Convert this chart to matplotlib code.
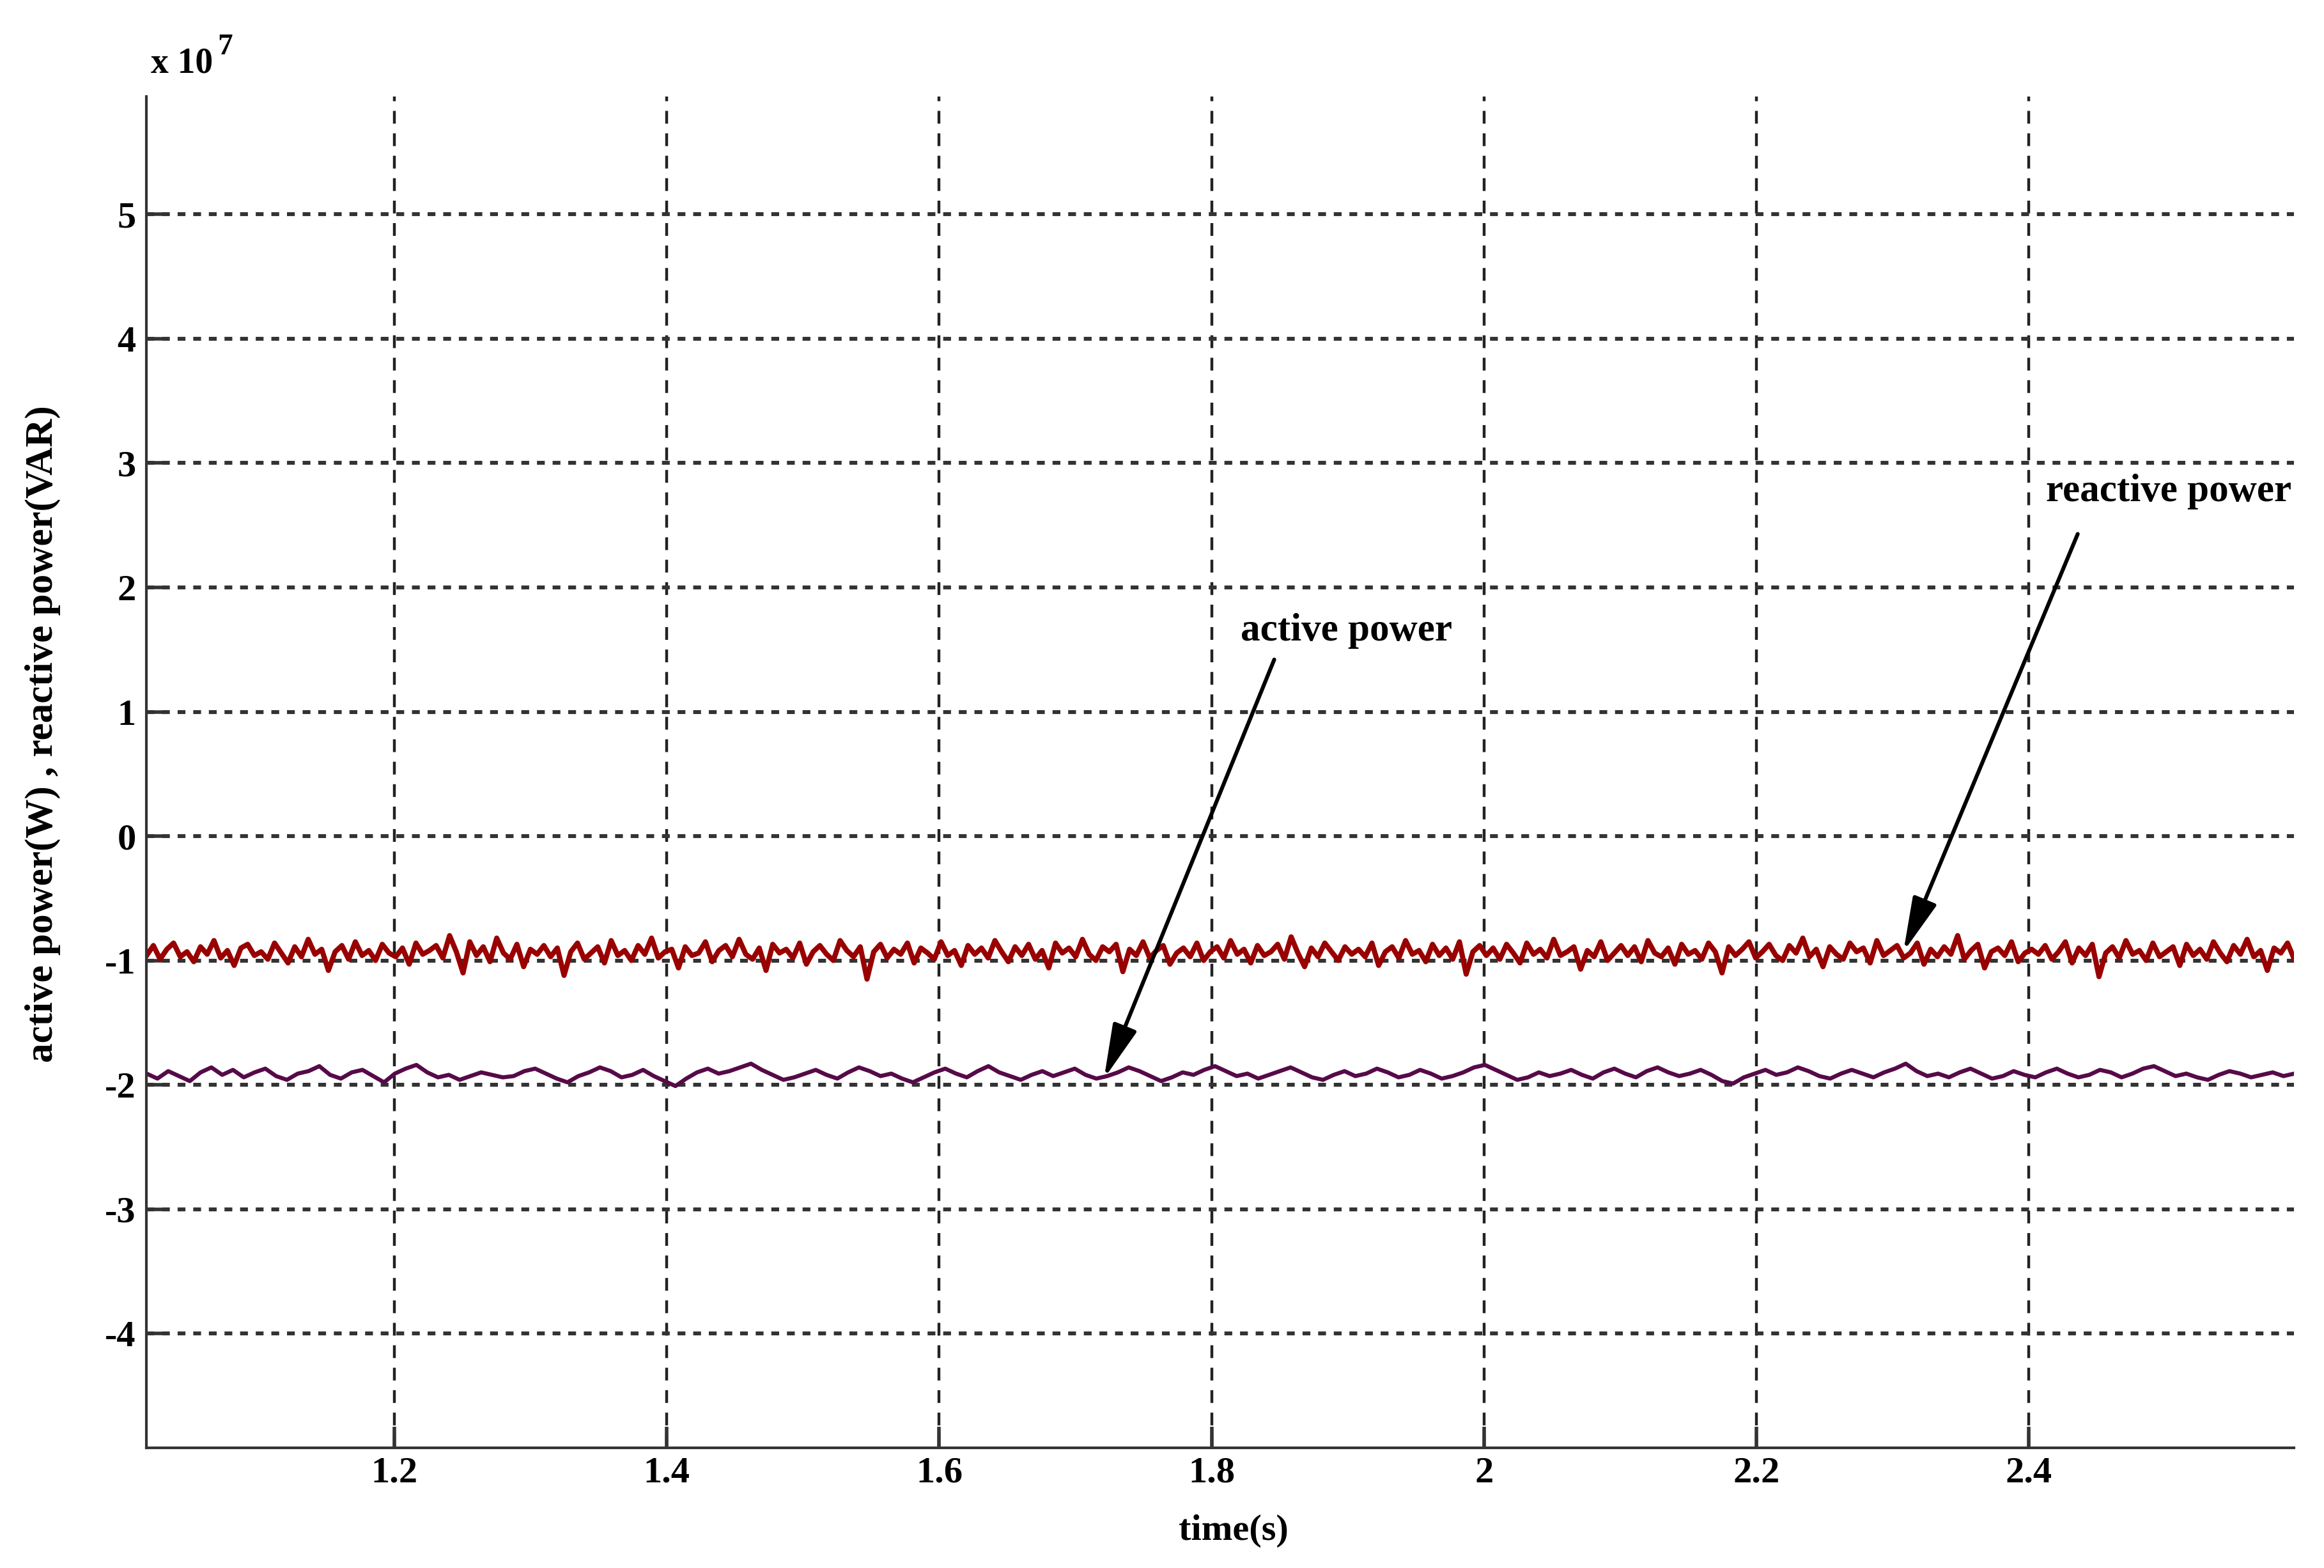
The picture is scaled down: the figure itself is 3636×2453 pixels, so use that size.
import numpy as np
import matplotlib
matplotlib.use('Agg')
import matplotlib.pyplot as plt

# time span of the plotted window (s)
t_start = 1.018
t_end = 2.595

# reactive power samples, in units of 1e5 (plot scale is 1e7)
reactive = [
    -96, -88, -99, -91, -86, -97, -93, -101, -89, -95, -84, -98, -92, -104, -90, -87, -96, -93, -99, -86,
    -94, -102, -89, -97, -83, -95, -91, -108, -93, -88, -99, -85, -96, -92, -100, -87, -94, -97, -90, -103,
    -86, -95, -92, -88, -98, -80, -93, -110, -85, -96, -89, -101, -82, -94, -99, -87, -105, -91, -95, -88,
    -97, -90, -112, -93, -86, -99, -94, -89, -102, -84, -96, -92, -100, -88, -95, -82, -98, -93, -91, -106,
    -89, -96, -94, -85, -101, -92, -88, -97, -83, -95, -99, -90, -108, -87, -94, -91, -98, -86, -103, -93,
    -88, -95, -100, -84, -92, -97, -89, -115, -93, -87, -98, -91, -95, -86, -102, -90, -94, -99, -85, -96,
    -92, -104, -88, -95, -90, -98, -84, -93, -101, -89, -96, -87, -99, -92, -106, -86, -94, -90, -97, -83,
    -95, -100, -89, -93, -87, -109, -91, -96, -85, -98, -92, -88, -103, -94, -90, -97, -86, -100, -93, -89,
    -98, -84, -95, -91, -102, -88, -96, -93, -87, -99, -81, -94, -105, -90, -97, -86, -93, -100, -89, -95,
    -91, -97, -86, -104, -93, -89, -98, -84, -95, -92, -101, -87, -96, -90, -99, -85, -111, -93, -88, -96,
    -90, -99, -87, -94, -102, -86, -95, -91, -98, -83, -96, -93, -89, -107, -92, -97, -85, -100, -94, -88,
    -96, -89, -101, -84, -94, -97, -90, -103, -87, -95, -92, -99, -86, -93, -110, -89, -96, -91, -85, -98,
    -93, -87, -96, -100, -88, -94, -82, -97, -91, -105, -89, -95, -99, -86, -93, -90, -102, -84, -96, -92,
    -88, -98, -94, -86, -103, -91, -97, -89, -95, -80, -99, -92, -87, -106, -93, -90, -96, -85, -101, -94,
    -91, -95, -88, -99, -93, -85, -102, -90, -96, -87, -113, -94, -89, -98, -84, -95, -92, -100, -86, -97,
    -93, -89, -104, -87, -96, -91, -99, -85, -94, -101, -88, -95, -83, -97, -92, -108, -90, -94, -86, -99,
]

# active power samples, in units of 1e5
active = [
    -191, -195, -189, -193, -197, -190, -186, -192, -188, -194, -190, -187, -193, -196, -191, -189, -185, -192, -195, -190,
    -188, -193, -198, -191, -187, -184, -190, -194, -192, -196, -193, -190, -192, -194, -193, -189, -187, -191, -195, -198,
    -193, -190, -186, -189, -194, -192, -188, -193, -197, -201, -195, -190, -187, -191, -189, -186, -183, -188, -192, -196,
    -194, -191, -188, -192, -195, -190, -186, -189, -193, -191, -195, -198, -194, -190, -187, -191, -194, -189, -185, -190,
    -193, -196, -192, -189, -193, -190, -187, -192, -195, -193, -190, -186, -189, -193, -197, -194, -190, -192, -188, -185,
    -189, -193, -191, -195, -192, -189, -186, -190, -194, -196, -192, -189, -193, -191, -187, -190, -194, -192, -188, -191,
    -195, -193, -190, -186, -184, -188, -192, -196, -194, -190, -193, -191, -188, -192, -195, -190, -187, -191, -194, -189,
    -186, -190, -193, -191, -188, -192, -197, -199, -194, -191, -188, -192, -190, -186, -189, -193, -195, -191, -188, -191,
    -194, -190, -187, -183, -189, -193, -191, -194, -190, -187, -191, -195, -193, -189, -192, -194, -190, -187, -191, -194,
    -192, -188, -190, -194, -191, -187, -185, -189, -193, -191, -194, -196, -192, -189, -191, -194, -192, -190, -193, -191,
]

x_ticks = [1.2, 1.4, 1.6, 1.8, 2.0, 2.2, 2.4]
x_tick_labels = ['1.2', '1.4', '1.6', '1.8', '2', '2.2', '2.4']
y_ticks = [-4, -3, -2, -1, 0, 1, 2, 3, 4, 5]

serif = ['Liberation Serif', 'DejaVu Serif']
plt.rcParams['font.family'] = serif
plt.rcParams['font.weight'] = 'bold'
plt.rcParams['axes.unicode_minus'] = False

t_r = np.linspace(t_start, t_end, len(reactive))
t_a = np.linspace(t_start, t_end, len(active))
y_r = np.array(reactive) / 100.0
y_a = np.array(active) / 100.0

fig = plt.figure(figsize=(18.18, 12.265), dpi=200)
ax = fig.add_axes([0.0631, 0.0766, 0.9241, 0.862])

ax.plot(t_r, y_r, color='#990000', lw=2.9)
ax.plot(t_a, y_a, color='#560a48', lw=2.3)

ax.set_xlim(t_start, t_end)
ax.set_ylim(-4.92, 5.95)
ax.set_xticks(x_ticks)
ax.set_xticklabels(x_tick_labels)
ax.set_yticks(y_ticks)

ax.xaxis.grid(True, linestyle=(0, (4.5, 3.4)), lw=1.6, color='#222222')
ax.yaxis.grid(True, linestyle=(0, (2, 2)), lw=2.2, color='#333333')
ax.set_axisbelow(True)

for s in ['top', 'right']:
    ax.spines[s].set_visible(False)
for s in ['left', 'bottom']:
    ax.spines[s].set_linewidth(1.5)
    ax.spines[s].set_color('#333333')

ax.tick_params(direction='in', length=12, width=2, color='#333333', labelsize=21)
ax.tick_params(axis='x', pad=5)
ax.tick_params(axis='y', pad=6)
for lab in ax.get_xticklabels() + ax.get_yticklabels():
    lab.set_fontweight('bold')

ax.set_xlabel('time(s)', fontsize=21, fontweight='bold')
ax.xaxis.set_label_coords(0.506, -0.049)
ax.set_ylabel('active power(W) , reactive power(VAR)', fontsize=22, fontweight='bold')
ax.yaxis.set_label_coords(-0.040, 0.528)

# scale factor text above the y axis
ax.text(0.002, 1.024, 'x 10', transform=ax.transAxes, fontsize=20,
        fontweight='bold', ha='left', va='center')
ax.text(0.033, 1.036, '7', transform=ax.transAxes, fontsize=17,
        fontweight='bold', ha='left', va='center')

arrow = dict(arrowstyle='-|>,head_length=1.3,head_width=0.3', color='black',
             lw=2.2, mutation_scale=20, shrinkA=0, shrinkB=0)
ax.annotate('', xy=(1.721, -1.95), xytext=(1.846, 1.42), arrowprops=arrow)
ax.text(1.899, 1.65, 'active power', fontsize=22, fontweight='bold',
        ha='center', va='center')
ax.annotate('', xy=(2.308, -0.93), xytext=(2.436, 2.43), arrowprops=arrow)
ax.text(2.503, 2.77, 'reactive power', fontsize=22, fontweight='bold',
        ha='center', va='center')

fig.savefig('out.png', dpi=200)
